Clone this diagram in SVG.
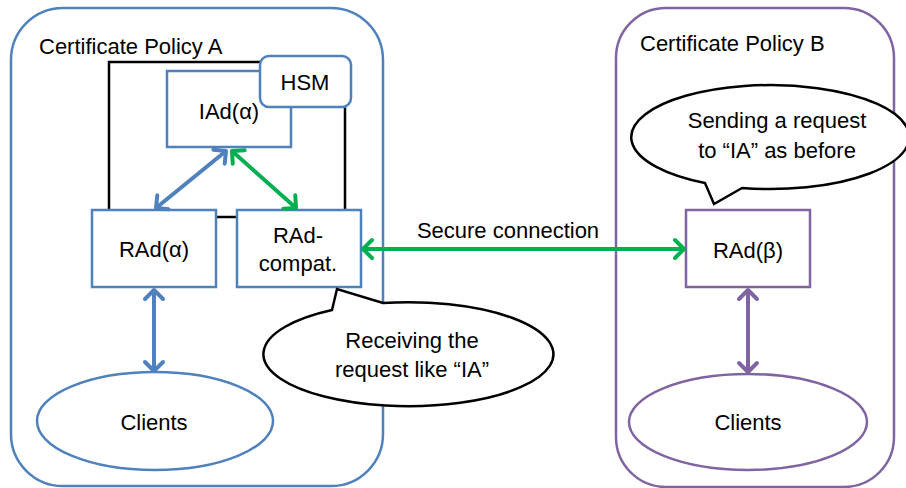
<svg xmlns="http://www.w3.org/2000/svg" width="906" height="488" viewBox="0 0 906 488">
<defs>
<style>
text{font-family:"Liberation Sans",Arial,sans-serif;font-size:22px;fill:#000;}
.c{text-anchor:middle;}
.blue{fill:#fff;stroke:#4F81BD;stroke-width:2.5;}
.purple{fill:#fff;stroke:#8064A2;stroke-width:2.5;}
.bubble{fill:#fff;stroke:#000;stroke-width:2.5;stroke-linejoin:miter;}
.ab{stroke:#4F81BD;stroke-width:4;fill:none;marker-start:url(#mb);marker-end:url(#mb);}
.ag{stroke:#00B050;stroke-width:4;fill:none;marker-start:url(#mg);marker-end:url(#mg);}
.ap{stroke:#8064A2;stroke-width:4;fill:none;marker-start:url(#mp);marker-end:url(#mp);}
</style>
<marker id="mb" markerUnits="userSpaceOnUse" markerWidth="24" markerHeight="24" viewBox="-12 -12 24 24" refX="0" refY="0" orient="auto-start-reverse" overflow="visible">
<path d="M-9,-9 L0,0 L-9,9" fill="none" stroke="#4F81BD" stroke-width="4" stroke-linecap="round" stroke-linejoin="round"/>
</marker>
<marker id="mg" markerUnits="userSpaceOnUse" markerWidth="24" markerHeight="24" viewBox="-12 -12 24 24" refX="0" refY="0" orient="auto-start-reverse" overflow="visible">
<path d="M-9,-9 L0,0 L-9,9" fill="none" stroke="#00B050" stroke-width="4" stroke-linecap="round" stroke-linejoin="round"/>
</marker>
<marker id="mp" markerUnits="userSpaceOnUse" markerWidth="24" markerHeight="24" viewBox="-12 -12 24 24" refX="0" refY="0" orient="auto-start-reverse" overflow="visible">
<path d="M-9,-9 L0,0 L-9,9" fill="none" stroke="#8064A2" stroke-width="4" stroke-linecap="round" stroke-linejoin="round"/>
</marker>
</defs>
<rect width="906" height="488" fill="#fff"/>

<g id="policyA">
<rect class="blue" x="11" y="8" width="372" height="478" rx="52" ry="52"/>
<text x="39" y="54">Certificate Policy A</text>
</g>
<g id="policyB">
<rect class="purple" x="616" y="8" width="278" height="479" rx="50" ry="50"/>
<text x="640" y="51">Certificate Policy B</text>
</g>

<g id="enclosure">
<rect x="109" y="62" width="236" height="155" fill="none" stroke="#000" stroke-width="2.5"/>
</g>
<g id="IAd">
<rect class="blue" x="167" y="71" width="124" height="76"/>
<text class="c" x="229" y="119">IAd(α)</text>
</g>
<g id="HSM">
<rect class="blue" x="260" y="56" width="91" height="51" rx="9" ry="9"/>
<text class="c" x="305" y="90">HSM</text>
</g>
<g id="RAdAlpha">
<rect class="blue" x="92" y="210" width="124" height="77"/>
<text class="c" x="154" y="257">RAd(α)</text>
</g>
<g id="RAdCompat">
<rect class="blue" x="237" y="210" width="124" height="77"/>
<text class="c" x="298" y="243">RAd-</text>
<text class="c" x="298" y="271">compat.</text>
</g>
<g id="RAdBeta">
<rect class="purple" x="686" y="210" width="124" height="77"/>
<text class="c" x="748" y="258">RAd(β)</text>
</g>
<g id="clientsA">
<ellipse class="blue" cx="155" cy="421" rx="118" ry="49"/>
<text class="c" x="154" y="430">Clients</text>
</g>
<g id="clientsB">
<ellipse class="purple" cx="748" cy="422" rx="119" ry="48"/>
<text class="c" x="748" y="430">Clients</text>
</g>

<g id="connectors">
<line class="ab" x1="226" y1="151" x2="156" y2="208"/>
<line class="ag" x1="232" y1="151" x2="296" y2="208"/>
<line class="ab" x1="154" y1="290" x2="154" y2="371"/>
<line class="ag" x1="363" y1="249" x2="684" y2="249"/>
<line class="ap" x1="748" y1="290" x2="748" y2="372"/>
<text class="c" x="508" y="238">Secure connection</text>
</g>

<g id="bubbleA">
<path class="bubble" d="M332,310 L337,289 L383,303 A145,52 0 1 1 332,310 Z"/>
<text class="c" x="412" y="348">Receiving the</text>
<text class="c" x="412" y="377">request like “IA”</text>
</g>
<g id="bubbleB">
<path class="bubble" d="M742,188 L714,204 L705,183 A139,52 0 1 1 742,188 Z"/>
<text class="c" x="777" y="128">Sending a request</text>
<text class="c" x="777" y="158">to “IA” as before</text>
</g>
</svg>
